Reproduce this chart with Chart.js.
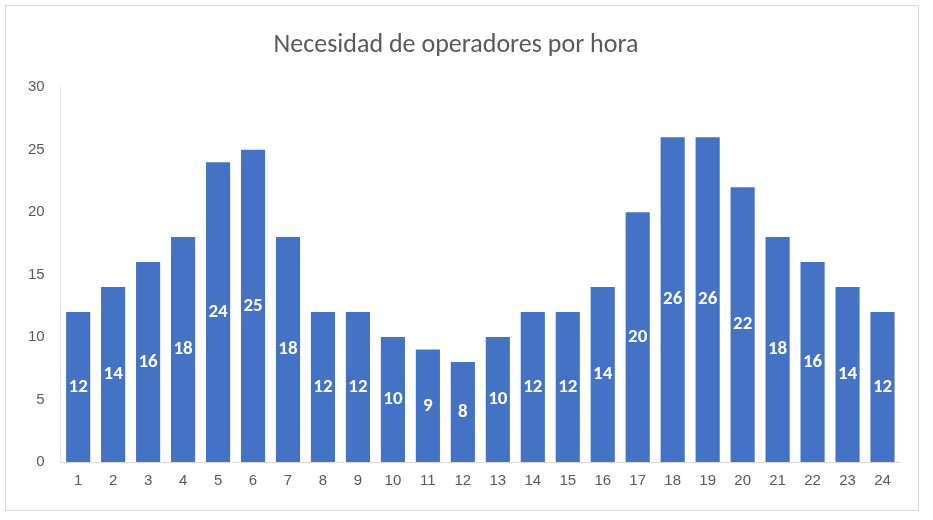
<!DOCTYPE html>
<html>
<head>
<meta charset="utf-8">
<script src="https://cdn.jsdelivr.net/npm/chart.js@4"></script>
<style>
  body { margin: 0; background: #fff; }
  #box { position: absolute; left: 5px; top: 5px; width: 912px; height: 504px; border: 1px solid #d9d9d9; }
  canvas { position: absolute; left: 0; top: 0; }
</style>
</head>
<body>
<div id="box"></div>
<canvas id="chart" width="933" height="520"></canvas>
<script>
// Hours and operators needed per hour
const hours = ['1','2','3','4','5','6','7','8','9','10','11','12','13','14','15','16','17','18','19','20','21','22','23','24'];
const operators = [12, 14, 16, 18, 24, 25, 18, 12, 12, 10, 9, 8, 10, 12, 12, 14, 20, 26, 26, 22, 18, 16, 14, 12];
const yTicks = [0, 5, 10, 15, 20, 25, 30];

// Draw the value inside each bar, centered
const barLabels = {
    id: 'barLabels',
    afterDatasetsDraw(chart) {
        const ctx = chart.ctx;
        const meta = chart.getDatasetMeta(0);
        ctx.save();
        ctx.fillStyle = '#ffffff';
        ctx.font = 'bold 19px Carlito, "Liberation Sans", Arial, sans-serif';
        ctx.textAlign = 'center';
        ctx.textBaseline = 'middle';
        meta.data.forEach((bar, i) => {
            ctx.fillText(operators[i], bar.x, (bar.y + bar.base) / 2);
        });
        ctx.restore();
    }
};

new Chart(document.getElementById('chart'), {
    type: 'bar',
    data: {
        labels: hours,
        datasets: [{
            data: operators,
            backgroundColor: '#4472c4',
            barPercentage: 0.69,
            categoryPercentage: 1
        }]
    },
    options: {
        responsive: false,
        animation: false,
        layout: { padding: { left: 12, right: 33, top: 20, bottom: 20 } },
        plugins: {
            legend: { display: false },
            tooltip: { enabled: false },
            title: {
                display: true,
                text: 'Necesidad de operadores por hora',
                color: '#595959',
                font: { size: 26, family: 'Carlito, "Liberation Sans", Arial, sans-serif', weight: 'normal' },
                padding: { top: 10, bottom: 26 }
            }
        },
        scales: {
            x: {
                grid: { display: false, drawTicks: false },
                border: { color: '#d9d9d9' },
                ticks: { color: '#595959', font: { size: 15 }, padding: 10 }
            },
            y: {
                min: 0,
                max: 30,
                afterBuildTicks: (axis) => { axis.ticks = yTicks.map(v => ({ value: v })); },
                grid: { display: false, drawTicks: false },
                border: { color: '#e6e6e6' },
                ticks: { color: '#595959', font: { size: 15 }, padding: 16 }
            }
        }
    },
    plugins: [barLabels]
});
</script>
</body>
</html>
